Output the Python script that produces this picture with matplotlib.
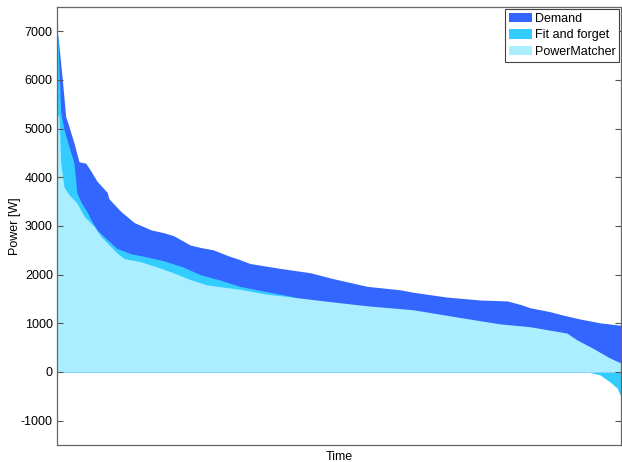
import matplotlib

matplotlib.use("Agg")
import matplotlib.pyplot as plt

plt.rcParams["font.family"] = ["Liberation Sans", "DejaVu Sans"]
plt.rcParams["axes.unicode_minus"] = False

# load duration curves, x = share of time [%], y = power [W]
demand_t = [0, 0.35, 0.94, 1.54, 2.13, 3.0, 3.9, 5.1, 5.9, 7.1, 8.9, 9.2, 10.1, 11.3, 13.7,
            16.7, 19.0, 20.7, 23.6, 25.4, 27.7, 30.1, 32.4, 34.2, 39.5, 44.9, 48.9, 55.0,
            60.8, 63.1, 69.1, 75.0, 79.8, 82.1, 83.9, 87.4, 89.7, 92.7, 96.3, 100]
demand_p = [7050, 6700, 6010, 5250, 5040, 4710, 4320, 4290, 4150, 3920, 3690, 3560, 3450,
            3300, 3070, 2920, 2860, 2800, 2610, 2560, 2510, 2400, 2310, 2230, 2130, 2040,
            1920, 1760, 1690, 1640, 1540, 1480, 1460, 1390, 1320, 1240, 1170, 1090, 1010, 960]

fitforget_t = [0, 0.18, 0.35, 0.66, 1.24, 2.13, 3.0, 3.3, 3.5, 4.3, 5.3, 6.2, 7.1, 8.9,
               10.6, 13.1, 14.9, 18.8, 22.3, 25.4, 28.9, 32.4, 37.2, 41.3, 42.6, 45.7,
               57.3, 67.9, 78.5, 85.6, 90.1, 92.7, 94.1, 96.3, 98.0, 99.3, 100]
fitforget_p = [7000, 6840, 6220, 5330, 4980, 4630, 4300, 3950, 3690, 3480, 3300, 3090, 2920,
               2720, 2540, 2430, 2390, 2290, 2160, 2000, 1890, 1760, 1650, 1560, 1520, 1440,
               1300, 1150, 940, 760, 500, 200, 0, -60, -200, -330, -510]

pm_t = [0, 0.35, 0.66, 1.24, 2.3, 3.5, 4.8, 6.6, 7.8, 9.6, 10.6, 11.9, 14.7, 17.7, 20.6,
        23.6, 26.6, 32.4, 37.2, 43.1, 48.9, 55.0, 63.1, 72.0, 78.5, 83.9, 90.4, 92.2,
        95.0, 98.0, 100]
pm_p = [5300, 5250, 4300, 3800, 3620, 3480, 3200, 2990, 2780, 2570, 2450, 2330, 2270, 2160,
        2040, 1900, 1790, 1700, 1600, 1520, 1440, 1360, 1280, 1110, 990, 930, 800, 660,
        490, 290, 185]

labels = ["Demand", "Fit and forget", "PowerMatcher"]
colors = ["#3366ff", "#33ccff", "#aaeeff"]

fig = plt.figure(figsize=(6.22, 4.62), dpi=100)
ax = fig.add_axes([57 / 622, 17 / 462, 564 / 622, 438 / 462])

for (t, p), lab, c in zip([(demand_t, demand_p), (fitforget_t, fitforget_p), (pm_t, pm_p)],
                          labels, colors):
    ax.fill_between(t, 0, p, color=c, linewidth=0, label=lab)

ax.set_xlim(0, 100)
ax.set_ylim(-1500, 7500)
ax.set_xticks([])
ax.set_yticks(range(-1000, 7001, 1000))
ax.tick_params(axis="y", direction="in", length=4, width=0.8, color="#555555",
               labelsize=9, right=True, pad=3)
for s in ax.spines.values():
    s.set_color("#666666")
    s.set_linewidth(0.9)
ax.set_xlabel("Time", fontsize=9, labelpad=4)
ax.set_ylabel("Power [W]", fontsize=9)
ax.yaxis.set_label_coords(-0.064, 0.5)

leg = ax.legend(loc="upper right", fontsize=9, fancybox=False, framealpha=1,
                edgecolor="#444444", borderpad=0.3, labelspacing=0.35,
                handlelength=1.8, handleheight=0.8, handletextpad=0.25,
                borderaxespad=0.15)
leg.get_frame().set_linewidth(0.8)

fig.savefig("out.png", dpi=100)
